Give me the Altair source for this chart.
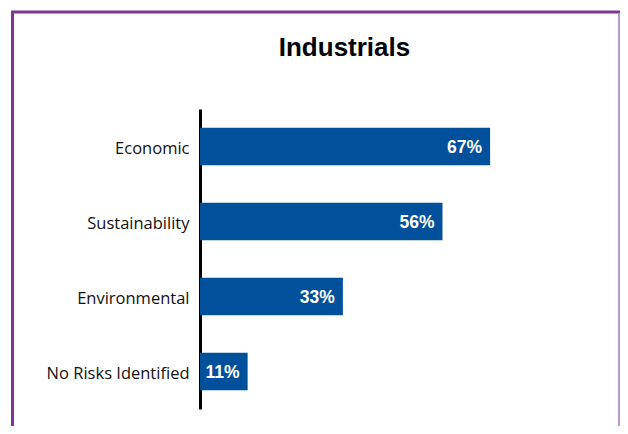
import altair as alt
import pandas as pd

categories = ["Economic", "Sustainability", "Environmental", "No Risks Identified"]
values = [67, 56, 33, 11]
labels = ["67%", "56%", "33%", "11%"]
title_text = ["Industrials"]

df = pd.DataFrame({"category": categories, "value": values, "label": labels})

W = 420
H = 300

y_enc = alt.Y("category:N", sort=categories,
              scale=alt.Scale(paddingInner=0.5, paddingOuter=0.25),
              axis=alt.Axis(title=None, ticks=False, labelPadding=11,
                            labelFont="Open Sans", labelFontSize=16.5,
                            labelColor="#111111", domainColor="#000000",
                            domainWidth=3, labelLimit=300, labelOffset=2))
x_enc = alt.X("value:Q", scale=alt.Scale(domain=[0, 97], nice=False), axis=None)

bars = alt.Chart(df).mark_bar(color="#00509b").encode(x=x_enc, y=y_enc)

text = alt.Chart(df).mark_text(align="right", dx=-8, dy=1, color="white",
                               font="Liberation Sans", fontWeight="bold",
                               fontSize=17.5).encode(
    x=x_enc, y=alt.Y("category:N", sort=categories), text="label:N")

frame_df = pd.DataFrame({"k": [0]})
title_df = pd.DataFrame({"t": title_text})
title = alt.Chart(title_df).mark_text(font="Liberation Sans", fontSize=26,
                                      fontWeight="bold", color="#000000",
                                      align="center", baseline="alphabetic").encode(
    x=alt.value(144.5), y=alt.value(-53), text="t:N")

top_line = alt.Chart(frame_df).mark_rule(color="#7b3596", strokeWidth=3).encode(
    x=alt.value(-189), x2=alt.value(440), y=alt.value(-97))
left_line = alt.Chart(frame_df).mark_rule(color="#7b3596", strokeWidth=3).encode(
    x=alt.value(-187.5), y=alt.value(-97), y2=alt.value(340))
right_line = alt.Chart(frame_df).mark_rule(color="#b89ac8", strokeWidth=2).encode(
    x=alt.value(419), y=alt.value(-96), y2=alt.value(340))

chart = alt.layer(bars, text, title, top_line, left_line, right_line).properties(
    width=W, height=H,
    autosize=alt.AutoSizeParams(type="none"),
    padding={"left": 192, "top": 101, "right": 0, "bottom": 17},
).configure_view(stroke=None)

chart.save("out.html", embed_options={"renderer": "svg", "actions": False})
